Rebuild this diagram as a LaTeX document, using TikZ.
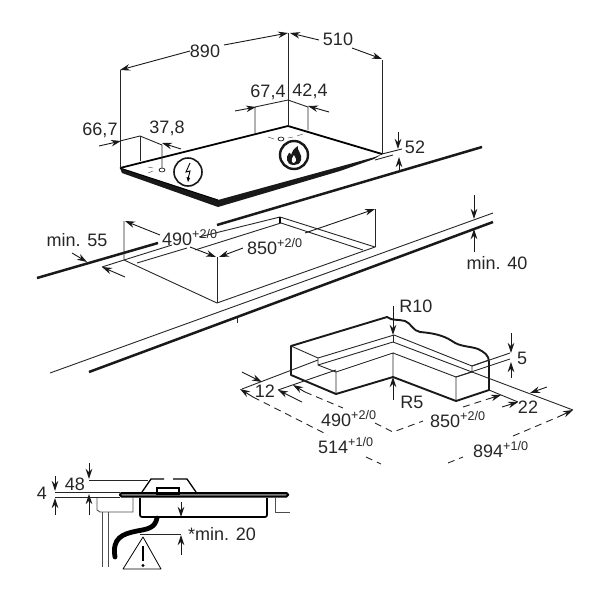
\documentclass[tikz,border=0pt]{standalone}
\usepackage{fontspec}
\setmainfont{Liberation Sans}
\usetikzlibrary{arrows.meta,shapes.geometric}
\tikzset{
  dim/.style={font=\fontsize{18}{18}\selectfont, text=black!85, inner sep=0pt},
  dimarrow/.style={-{Stealth[length=10pt,width=6.5pt]}, line width=0.9pt, draw=black!90},
  thinline/.style={line width=0.9pt, draw=black!85},
  heavyline/.style={line width=2.5pt, draw=black!90},
  dashline/.style={line width=0.9pt, draw=black!85, dash pattern=on 7pt off 5pt}
}
\begin{document}
\begin{tikzpicture}[x=1pt,y=-1pt]
\useasboundingbox (0,0) rectangle (600,600);
% hob
\coordinate (hl) at (120,168);
\coordinate (hb) at (288,126);
\coordinate (hr) at (382,154);
\coordinate (hf) at (218,200);
\fill[black!90] (hl) -- (hf) -- (375,157) -- (hr) -- (374,159) -- (340,171) -- (218,207) -- (122,173) -- cycle;
\draw[line width=1.8pt] (hl) -- (hb) -- (hr);
\draw[line width=1pt] (hl) -- (hf);
\node (ringl) at (188,172) [circle,draw=black!90,line width=1.6pt,minimum size=28pt,inner sep=0pt] {};
\node (ringr) at (294,155) [circle,draw=black!90,line width=2.4pt,minimum size=28pt,inner sep=0pt] {};
\draw[line width=0.9pt] (190,163) -- (186,172) -- (190,171) -- (188,179);
\fill (186.5,177) -- (188,182) -- (190,178) -- cycle;
\fill[black!90] (294,165) .. controls (285,165) and (286,156) .. (289,153) .. controls (290,151) and (290,154) .. (291,155) .. controls (292,152) and (293,149) .. (298,146) .. controls (296,150) and (303,154) .. (301,160) .. controls (300,164) and (297,165) .. (294,165) -- cycle;
\fill[white] (294,163) .. controls (291,163) and (291,159) .. (294,155) .. controls (295,158) and (298,160) .. (294,163) -- cycle;
\node (holel) at (162,170) [ellipse,draw,line width=0.6pt,minimum width=6pt,minimum height=4pt,inner sep=0pt] {};
\node (holer) at (281,139) [ellipse,draw,line width=0.6pt,minimum width=6pt,minimum height=4pt,inner sep=0pt] {};
\draw[line width=0.5pt,draw=black!60] (148,167) -- (153,168) (148,173) -- (153,171);
\draw[line width=0.5pt,draw=black!60] (268,137) -- (274,139) (288,138) -- (293,137) (297,136) -- (303,134);
% hob dimensions
\draw[thinline] (hl) -- (120,70);
\draw[thinline] (hb) -- (288,33);
\draw[thinline] (hr) -- (382,60);
\node (w890) at (205,51) [dim] {890};
\node (w510) at (338,39) [dim] {510};
\draw[dimarrow] (190,51) -- (120,70);
\draw[dimarrow] (224,45) -- (288,33);
\draw[dimarrow] (319,40) -- (290,33);
\draw[dimarrow] (352,48) -- (382,59);
\node (d674) at (268,92) [dim] {67,4};
\node (d424) at (310,91) [dim] {42,4};
\draw[thinline] (255,133) -- (255,107) -- (288,100) -- (308,107) -- (308,130);
\draw[thinline] (288,100) -- (288,126);
\draw[dimarrow] (235,111) -- (256,107);
\draw[dimarrow] (329,112) -- (308,106);
\node (d667) at (100,130) [dim] {66,7};
\node (d378) at (167,128) [dim] {37,8};
\draw[thinline] (120,141) -- (140,136) -- (162,145) -- (162,168);
\draw[thinline] (140,136) -- (140,161);
\draw[dimarrow] (99,146) -- (121,141);
\draw[dimarrow] (181,149) -- (162,143);
% 52
\node (h52) at (415,147) [dim] {52};
\draw[thinline] (hr) -- (402,149);
\draw[thinline] (375,160) -- (393,155);
\draw[dimarrow] (398,132) -- (398,149);
\draw[dimarrow] (399,172) -- (399,157);
% worktop
\draw[heavyline] (37,278) -- (158,243);
\draw[heavyline] (217,225) -- (482,147);
\draw[heavyline] (89,372) -- (493,222);
\draw[thinline] (50,373) -- (493,213);
\draw[thinline] (237,318) -- (237,323);
% cutout
\coordinate (ca) at (124,260);
\coordinate (cb) at (217,303);
\coordinate (cc) at (375,247);
\coordinate (cd) at (280,217);
\draw[thinline] (102,267) -- (ca) -- (172,245);
\draw[thinline] (137,263) -- (187,248);
\draw[thinline] (199,237) -- (cd);
\draw[thinline] (195,250) -- (281,223);
\draw[line width=1.8pt] (cd) -- (280,223);
\draw[thinline] (cd) -- (cc) -- (cb) -- (ca) -- (124,221);
\draw[thinline] (281,223) -- (363,250);
\draw[thinline] (cb) -- (217,257);
\draw[thinline] (cc) -- (375,209);
\node (c490) at (162,245) [dim,anchor=base west] {490\textsuperscript{+2/0}};
\node (c850) at (247,254) [dim,anchor=base west] {850\textsuperscript{+2/0}};
\draw[dimarrow] (160,235) -- (125,221);
\draw[dimarrow] (190,247) -- (216,257);
\draw[dimarrow] (243,248) -- (219,257);
\draw[dimarrow] (305,233) -- (375,209);
\node (m55) at (77,240) [dim] {min. 55};
\draw[dimarrow] (72,253) -- (87,262);
\draw[dimarrow] (125,277) -- (102,267);
\node (m40) at (497,263) [dim] {min. 40};
\draw[dimarrow] (474,195) -- (474,219);
\draw[dimarrow] (474,252) -- (474,229);
% section of the recess
\draw[thinline] (291,346) -- (318,358) -- (318,365) -- (336,372) -- (336,394);
\draw[thinline] (318,358) -- (394,335) -- (472,366) -- (472,372) -- (393,342) -- (318,365);
\draw[thinline] (393,335) -- (393,342);
\draw[thinline] (336,372) -- (393,353) -- (393,377);
\draw[thinline] (393,353) -- (456,377) -- (456,401);
\draw[thinline] (456,377) -- (472,372);
\draw[thinline] (472,366) -- (489,360);
\draw[line width=1.9pt,line join=round,draw=black!90] (291,346) -- (387,317) .. controls (392,321) and (398,319) .. (405,321) .. controls (411,323) and (413,331) .. (420,332) .. controls (432,333) and (443,335) .. (452,341) .. controls (460,347) and (470,346) .. (478,349) .. controls (484,352) and (489,355) .. (489,362) -- (489,390) -- (456,401) -- (393,377) -- (336,394) -- (291,375) -- cycle;
\draw[thinline] (242,389) -- (318,360);
\draw[thinline] (278,390) -- (336,370);
\draw[thinline] (472,366) -- (510,353);
\draw[thinline] (456,377) -- (510,359);
\draw[thinline] (472,372) -- (573,410);
\draw[thinline] (489,390) -- (518,402);
\node (r10) at (416,306) [dim] {R10};
\node (r5) at (412,402) [dim] {R5};
\draw[dimarrow] (393,306) -- (393,335);
\draw[dimarrow] (393,400) -- (393,377);
\node (d5) at (522,358) [dim] {5};
\draw[dimarrow] (511,333) -- (511,353);
\draw[dimarrow] (511,378) -- (511,362);
\node (d12) at (265,391) [dim] {12};
\draw[dimarrow] (242,372) -- (262,382);
\draw[dimarrow] (302,402) -- (278,390);
\node (d22) at (528,407) [dim] {22};
\draw[dimarrow] (502,407) -- (518,402);
\draw[dimarrow] (547,387) -- (530,393);
\node (r490) at (321,426) [dim,anchor=base west] {490\textsuperscript{+2/0}};
\node (r850) at (430,427) [dim,anchor=base west] {850\textsuperscript{+2/0}};
\node (r514) at (318,453) [dim,anchor=base west] {514\textsuperscript{+1/0}};
\node (r894) at (473,457) [dim,anchor=base west] {894\textsuperscript{+1/0}};
\draw[dimarrow] (305,392) -- (293,385);
\draw[dashline] (305,392) -- (343,408);
\draw[dashline] (375,423) -- (393,432) -- (423,421);
\draw[dashline] (463,407) -- (488,399);
\draw[dimarrow] (488,399) -- (501,395);
\draw[dimarrow] (253,397) -- (240,389);
\draw[dashline] (253,397) -- (328,435);
\draw[dashline] (366,457) -- (381,464);
\draw[dashline] (448,463) -- (463,457);
\draw[dashline] (513,436) -- (558,417);
\draw[dimarrow] (558,417) -- (573,410);
% side view
\draw[thinline,draw=black!70] (97,498) -- (97,510) -- (100,512) -- (133,512) -- (133,498);
\draw[thinline,draw=black!70] (275,498) -- (275,512) -- (290,512);
\draw[thinline,draw=black!70] (102,512) -- (102,567);
\draw[thinline,draw=black!70] (108,512) -- (108,567);
\draw[line width=1.3pt] (142,492) -- (151,479) -- (164,479);
\draw[line width=1.3pt] (173,479) -- (187,479) -- (196,492);
\draw[line width=2pt,rounded corners=1.5pt,fill=black!45] (120,493) rectangle (288,496.5);
\draw[line width=1.8pt,fill=white] (157,488) rectangle (179,494);
\draw[line width=1.8pt] (157,492.5) -- (179,492.5);
\draw[line width=1.7pt,rounded corners=2pt] (140,498) -- (140,517) -- (267,517) -- (267,498);
\draw[line width=4.8pt,line cap=round] (157,518) .. controls (155,528) and (148,529) .. (137,531) .. controls (122,534) and (112,538) .. (115,557);
\draw[line width=0.8pt,line join=round] (143,537) -- (123,569) -- (161,569) -- cycle;
\draw[line width=2.6pt] (143,546) -- (143,561);
\fill (143,565.5) circle (1.7pt);
\node (h4) at (42,493) [dim] {4};
\node (h48) at (75,484) [dim] {48};
\node (m20) at (222,534) [dim] {*min. 20};
\draw[thinline] (89,480) -- (148,480);
\draw[thinline] (55,492) -- (120,492);
\draw[thinline] (55,497) -- (120,497);
\draw[thinline] (140,534) -- (181,534);
\draw[dimarrow] (89,463) -- (89,479);
\draw[dimarrow] (89,515) -- (89,494);
\draw[dimarrow] (55,476) -- (55,491);
\draw[dimarrow] (55,515) -- (55,498);
\draw[dimarrow] (181,502) -- (181,517);
\draw[dimarrow] (181,555) -- (181,535);
\end{tikzpicture}
\end{document}
